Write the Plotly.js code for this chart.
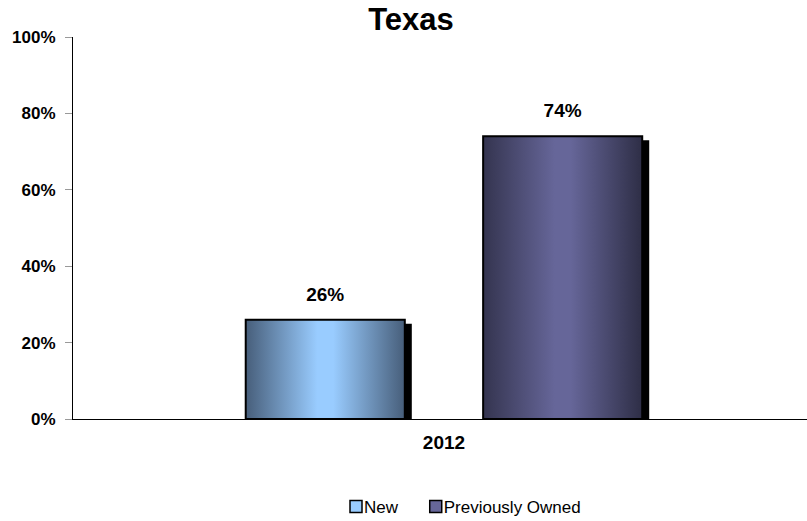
<!DOCTYPE html>
<html>
<head>
<meta charset="utf-8">
<script src="https://cdn.plot.ly/plotly-3.0.1.min.js"></script>
<style>
  html, body { margin: 0; padding: 0; background: #fff; }
  #chart { width: 807px; height: 521px; }
</style>
</head>
<body>
<div id="chart"></div>
<script>
// ---- data ----
const categories = ['2012'];
const seriesNames = ['New', 'Previously Owned'];
const newValues = [26];
const prevOwnedValues = [74];
const yTickValues = [0, 20, 40, 60, 80, 100];
const yTickLabels = ['0%', '20%', '40%', '60%', '80%', '100%'];
const chartTitle = 'Texas';

// ---- styles ----
const FONT = 'Liberation Sans, Arial, sans-serif';
const baseColors = ['#99ccff', '#666699'];
const gradientStops = [
  [['0', '#475e7a'], ['0.45', '#99ccff'], ['0.55', '#99ccff'], ['1', '#475e7a']],
  [['0', '#34344f'], ['0.45', '#666699'], ['0.55', '#666699'], ['1', '#2e2e46']]
];

function barTrace(name, values, color) {
  return {
    type: 'bar',
    name: name,
    x: categories,
    y: values,
    marker: { color: color, line: { color: '#000', width: 2 } },
    texttemplate: '%{y:.0f}%',
    textposition: 'outside',
    textfont: { family: FONT, size: 19, color: '#000', weight: 'bold' },
    cliponaxis: true
  };
}

const data = [
  barTrace(seriesNames[0], newValues, baseColors[0]),
  barTrace(seriesNames[1], prevOwnedValues, baseColors[1])
];

const layout = {
  width: 807,
  height: 521,
  margin: { l: 73, r: 0, t: 37, b: 102, pad: 0 },
  paper_bgcolor: '#fff',
  plot_bgcolor: '#fff',
  barmode: 'group',
  bargap: 0.36,
  bargroupgap: 0.33,
  showlegend: true,
  title: {
    text: chartTitle,
    font: { family: FONT, size: 31, color: '#000', weight: 'bold' },
    xref: 'container', x: 411 / 807, xanchor: 'center',
    yref: 'container', y: 1 - 19 / 521, yanchor: 'middle'
  },
  xaxis: {
    type: 'category',
    range: [-0.5, 0.4893],
    showline: true, linecolor: '#000', linewidth: 1,
    ticks: '', showgrid: false, zeroline: false,
    ticklabelstandoff: 6,
    tickfont: { family: FONT, size: 19, color: '#000', weight: 'bold' },
    fixedrange: true
  },
  yaxis: {
    range: [0, 100],
    tickmode: 'array',
    tickvals: yTickValues,
    ticktext: yTickLabels,
    showline: true, linecolor: '#000', linewidth: 1,
    ticks: 'outside', ticklen: 7, tickcolor: '#999', tickwidth: 1,
    ticklabelstandoff: 6,
    showgrid: false, zeroline: false,
    tickfont: { family: FONT, size: 17, color: '#000', weight: 'bold' },
    fixedrange: true
  },
  legend: {
    orientation: 'h',
    xref: 'container', x: 467 / 807, xanchor: 'center',
    yref: 'container', y: 1 - 507 / 521, yanchor: 'middle',
    font: { family: FONT, size: 17, color: '#000' },
    itemwidth: 30,
    traceorder: 'normal'
  }
};

Plotly.newPlot('chart', data, layout, { staticPlot: true, displayModeBar: false }).then(function (gd) {
  const svg = gd.querySelector('.main-svg');
  let defs = svg.querySelector('defs');
  const NS = 'http://www.w3.org/2000/svg';
  gradientStops.forEach(function (stops, i) {
    const g = document.createElementNS(NS, 'linearGradient');
    g.setAttribute('id', 'barGrad' + i);
    g.setAttribute('x1', '0'); g.setAttribute('y1', '0');
    g.setAttribute('x2', '1'); g.setAttribute('y2', '0');
    stops.forEach(function (s) {
      const st = document.createElementNS(NS, 'stop');
      st.setAttribute('offset', s[0]);
      st.setAttribute('stop-color', s[1]);
      g.appendChild(st);
    });
    defs.appendChild(g);
  });
  const traces = gd.querySelectorAll('.barlayer .trace');
  traces.forEach(function (tr, i) {
    tr.querySelectorAll('path').forEach(function (p) {
      p.style.fill = 'url(#barGrad' + i + ')';
      p.style.filter = 'drop-shadow(6px 5px 0px #000)';
    });
    tr.querySelectorAll('text.bartext').forEach(function (t) {
      const tf = t.getAttribute('transform') || '';
      t.setAttribute('transform', 'translate(0,-12) ' + tf);
    });
  });
  // legend: pull label text next to its swatch
  gd.querySelectorAll('.legend .traces text.legendtext').forEach(function (t) {
    const x = parseFloat(t.getAttribute('x') || '40');
    t.setAttribute('x', String(x - 12));
  });
  gd.querySelectorAll('.legend .traces .legendpoints path').forEach(function (p) {
    p.style.strokeWidth = '1.5px';
  });
});
</script>
</body>
</html>
